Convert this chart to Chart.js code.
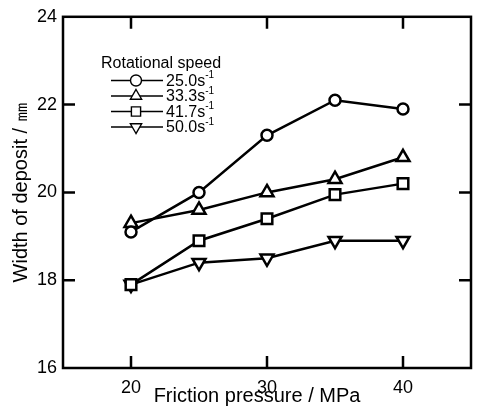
<!DOCTYPE html>
<html>
<head>
<meta charset="utf-8">
<script src="https://cdn.jsdelivr.net/npm/chart.js@4/dist/chart.umd.min.js"></script>
<style>
  html, body { margin: 0; padding: 0; background: #fff; }
  #wrap { width: 481px; height: 413px; }
</style>
</head>
<body>
<div id="wrap"><canvas id="c" width="481" height="413"></canvas></div>
<script>
// ---- data ----
const pressure = [20, 25, 30, 35, 40];           // Friction pressure / MPa
const speeds = ['25.0', '33.3', '41.7', '50.0']; // Rotational speed / s^-1
const width250 = [19.1, 20.0, 21.3, 22.1, 21.9];
const width333 = [19.3, 19.6, 20.0, 20.3, 20.8];
const width417 = [17.9, 18.9, 19.4, 19.95, 20.2];
const width500 = [17.9, 18.4, 18.5, 18.9, 18.9];
const xTickValues = [20, 30, 40];
const yTickValues = [16, 18, 20, 22, 24];
const legendTitle = 'Rotational speed';
const xTitle = 'Friction pressure / MPa';
const yTitle = 'Width of deposit / ㎜';

// ---- styles ----
const FONT = '"Liberation Sans", Arial, Helvetica, sans-serif';
const markers = [
  { pointStyle: 'circle',   rotation: 0,   radius: 5.5, legendRadius: 5.5 },
  { pointStyle: 'triangle', rotation: 0,   radius: 7.5, legendRadius: 6.5 },
  { pointStyle: 'rect',     rotation: 0,   radius: 7.5, legendRadius: 6.5 },
  { pointStyle: 'triangle', rotation: 180, radius: 7.5, legendRadius: 6.5 }
];
const series = [width250, width333, width417, width500];

const datasets = series.map((vals, i) => ({
  label: speeds[i],
  data: pressure.map((p, j) => ({ x: p, y: vals[j] })),
  borderColor: '#000',
  borderWidth: 2.5,
  backgroundColor: '#fff',
  pointStyle: markers[i].pointStyle,
  rotation: markers[i].rotation,
  pointRadius: markers[i].radius,
  pointHoverRadius: markers[i].radius,
  pointBackgroundColor: '#fff',
  pointBorderColor: '#000',
  pointBorderWidth: 2.5,
  tension: 0,
  fill: false
}));

const framePlugin = {
  id: 'frame',
  afterDraw(chart) {
    const ctx = chart.ctx;
    const a = chart.chartArea;
    const xs = chart.scales.x, ys = chart.scales.y;
    ctx.save();
    ctx.strokeStyle = '#000';
    ctx.lineWidth = 2.5;
    ctx.strokeRect(a.left, a.top, a.right - a.left, a.bottom - a.top);
    const tl = 12;
    ctx.beginPath();
    xTickValues.forEach(v => {
      const px = xs.getPixelForValue(v);
      ctx.moveTo(px, a.bottom); ctx.lineTo(px, a.bottom - tl);
      ctx.moveTo(px, a.top); ctx.lineTo(px, a.top + tl);
    });
    yTickValues.forEach(v => {
      const py = ys.getPixelForValue(v);
      if (Math.abs(py - a.top) < 2 || Math.abs(py - a.bottom) < 2) return;
      ctx.moveTo(a.left, py); ctx.lineTo(a.left + tl, py);
      ctx.moveTo(a.right, py); ctx.lineTo(a.right - tl, py);
    });
    ctx.stroke();

    // axis titles
    ctx.fillStyle = '#000';
    ctx.font = '20px ' + FONT;
    ctx.textAlign = 'center';
    ctx.textBaseline = 'alphabetic';
    ctx.fillText(xTitle, (a.left + a.right) / 2 - 10, 402);
    ctx.save();
    ctx.translate(27, (a.top + a.bottom) / 2);
    ctx.rotate(-Math.PI / 2);
    ctx.fillText(yTitle, 0, 0);
    ctx.restore();

    // legend
    ctx.textAlign = 'left';
    ctx.textBaseline = 'middle';
    ctx.font = '16px ' + FONT;
    ctx.fillText(legendTitle, 101, 64);
    chart.data.datasets.forEach((ds, i) => {
      const y = 80.5 + i * 15.5;
      ctx.beginPath();
      ctx.lineWidth = 1.6;
      ctx.strokeStyle = '#000';
      ctx.moveTo(111, y); ctx.lineTo(163, y);
      ctx.stroke();
      ctx.fillStyle = '#fff';
      ctx.strokeStyle = '#000';
      ctx.lineWidth = 1.4;
      Chart.helpers.drawPoint(ctx, {
        pointStyle: markers[i].pointStyle,
        rotation: markers[i].rotation,
        radius: markers[i].legendRadius,
        borderWidth: 1.4
      }, 136, y);
      ctx.fillStyle = '#000';
      ctx.font = '16px ' + FONT;
      const t = ds.label + 's';
      ctx.fillText(t, 166, y + 1);
      const w = ctx.measureText(t).width;
      ctx.font = '10px ' + FONT;
      ctx.fillText('-1', 166 + w, y - 5);
    });
    ctx.restore();
  }
};

new Chart(document.getElementById('c'), {
  type: 'line',
  data: { datasets },
  options: {
    responsive: false,
    animation: false,
    layout: { padding: { left: 0, top: 15, right: 2, bottom: 0 } },
    plugins: { legend: { display: false }, tooltip: { enabled: false } },
    scales: {
      x: {
        type: 'linear',
        min: 15, max: 45,
        afterBuildTicks(scale) { scale.ticks = xTickValues.map(v => ({ value: v })); },
        afterFit(scale) { scale.height = 45; },
        grid: { display: false, drawTicks: false },
        border: { display: false },
        ticks: { color: '#000', font: { family: FONT, size: 18 }, padding: 9, maxRotation: 0 }
      },
      y: {
        type: 'linear',
        min: 16, max: 24,
        afterBuildTicks(scale) { scale.ticks = yTickValues.map(v => ({ value: v })); },
        afterFit(scale) { scale.width = 63; },
        grid: { display: false, drawTicks: false },
        border: { display: false },
        ticks: { color: '#000', font: { family: FONT, size: 18 }, padding: 6 }
      }
    }
  },
  plugins: [framePlugin]
});
</script>
</body>
</html>
